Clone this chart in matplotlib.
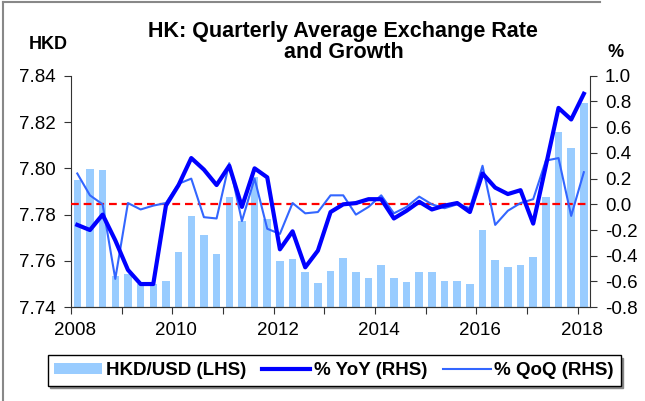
import numpy as np
import matplotlib
matplotlib.use("Agg")
import matplotlib.pyplot as plt
import matplotlib.transforms as mtransforms
from matplotlib.lines import Line2D

plt.rcParams['font.family'] = ['Liberation Sans', 'DejaVu Sans']

# quarterly data, 2008Q1 .. 2018Q1
quarters = [f"{y}Q{q}" for y in range(2008, 2019) for q in range(1, 5)][:41]
hkd_usd = [7.7948, 7.7996, 7.7993, 7.7536, 7.7544, 7.7498, 7.7500, 7.7515,
           7.7638, 7.7794, 7.7713, 7.7629, 7.7876, 7.7771, 7.7963, 7.7782,
           7.7601, 7.7608, 7.7550, 7.7504, 7.7556, 7.7611, 7.7550, 7.7528,
           7.7583, 7.7526, 7.7507, 7.7550, 7.7550, 7.7515, 7.7511, 7.7500,
           7.7733, 7.7606, 7.7572, 7.7583, 7.7615, 7.7875, 7.8156, 7.8088,
           7.8283]
yoy = [-0.16, -0.20, -0.08, -0.28, -0.51, -0.62, -0.62, -0.01,
       0.15, 0.36, 0.27, 0.15, 0.30, -0.02, 0.28, 0.21,
       -0.35, -0.21, -0.49, -0.36, -0.06, 0.00, 0.01, 0.04,
       0.04, -0.11, -0.05, 0.02, -0.04, -0.01, 0.01, -0.06,
       0.24, 0.13, 0.08, 0.11, -0.15, 0.30, 0.75, 0.66,
       0.86]
qoq = [0.24, 0.07, 0.00, -0.58, 0.01, -0.04, -0.01, 0.01,
       0.16, 0.20, -0.10, -0.11, 0.32, -0.13, 0.20, -0.19,
       -0.23, 0.01, -0.07, -0.06, 0.07, 0.07, -0.08, -0.02,
       0.07, -0.07, -0.02, 0.06, 0.00, -0.03, 0.00, -0.03,
       0.30, -0.16, -0.05, 0.01, 0.04, 0.34, 0.36, -0.09,
       0.25]
left_ticks = [7.74, 7.76, 7.78, 7.80, 7.82, 7.84]
right_ticks = [-0.8, -0.6, -0.4, -0.2, 0.0, 0.2, 0.4, 0.6, 0.8, 1.0]
years = list(range(2008, 2019))

# decimal-year positions at quarter centres
x = np.array([int(q[:4]) + (int(q[-1]) - 0.5) / 4 for q in quarters])

fig = plt.figure(figsize=(6.45, 4.01), dpi=100)
ax = fig.add_axes([0.110, 0.234, 0.805, 0.577])
ax2 = ax.twinx()

bars = ax.bar(x, hkd_usd, width=0.148, color='#99CCFF', zorder=1)
ax.set_ylim(7.74, 7.84)
ax.set_yticks(left_ticks)
ax.set_yticklabels([f"{v:.2f}" for v in left_ticks])
ax.set_xlim(2008, 2018.25)
ax.set_xticks(years)
ax.set_xticklabels([str(y) if y % 2 == 0 else '' for y in years])

ax2.axhline(0, color='#FF0000', lw=1.6, ls=(0, (3.5, 2.2)), zorder=2)
l1, = ax2.plot(x, yoy, color='#0000FF', lw=3, zorder=4)
l2, = ax2.plot(x, qoq, color='#3366FF', lw=1.5, zorder=3)
ax2.set_ylim(-0.8, 1.0)
ax2.set_yticks(right_ticks)
ax2.set_yticklabels([f"{v:.1f}" for v in right_ticks])

for a in (ax, ax2):
    a.spines['top'].set_visible(False)
    for s in a.spines.values():
        s.set_color('#333333')
    a.tick_params(labelsize=13.5, length=4.7, pad=6, color='#333333', direction='out')
ax.spines['right'].set_visible(False)
ax2.spines['left'].set_visible(False)
ax.patch.set_visible(False)
ax2.patch.set_visible(False)

# year labels sit slightly right of their ticks
shift = mtransforms.ScaledTranslation(0.04, 0, fig.dpi_scale_trans)
for lab in ax.get_xticklabels():
    lab.set_transform(lab.get_transform() + shift)

fig.text(0.531, 0.9085, "HK: Quarterly Average Exchange Rate", ha='center',
         va='baseline', fontsize=15.5, fontweight='bold')
fig.text(0.533, 0.8554, "and Growth", ha='center', va='baseline', fontsize=15.5,
         fontweight='bold')
fig.text(0.0744, 0.877, "HKD", ha='center', va='baseline', fontsize=13, fontweight='bold')
fig.text(0.955, 0.858, "%", ha='center', va='baseline', fontsize=13, fontweight='bold')

leg = fig.legend([bars, l1, l2], ["HKD/USD (LHS)", "% YoY (RHS)", "% QoQ (RHS)"],
                 loc='center', bbox_to_anchor=(0.518, 0.076), ncol=3, frameon=True,
                 fancybox=False, prop={'weight': 'bold', 'size': 13.5}, handlelength=2.55,
                 handleheight=0.5, columnspacing=0.85, handletextpad=0.2, borderpad=0.35,
                 borderaxespad=0, shadow={'color': '#888888', 'alpha': 1, 'ox': 1.5, 'oy': -1.5})
leg.get_frame().set_edgecolor('black')
leg.get_frame().set_linewidth(1.0)

fig.add_artist(Line2D([0.004, 0.004], [0, 0.996], color='#888888', lw=1.5))
fig.add_artist(Line2D([0.004, 0.93], [0.996, 0.996], color='#888888', lw=1.5))

fig.savefig('out.png', dpi=100)
